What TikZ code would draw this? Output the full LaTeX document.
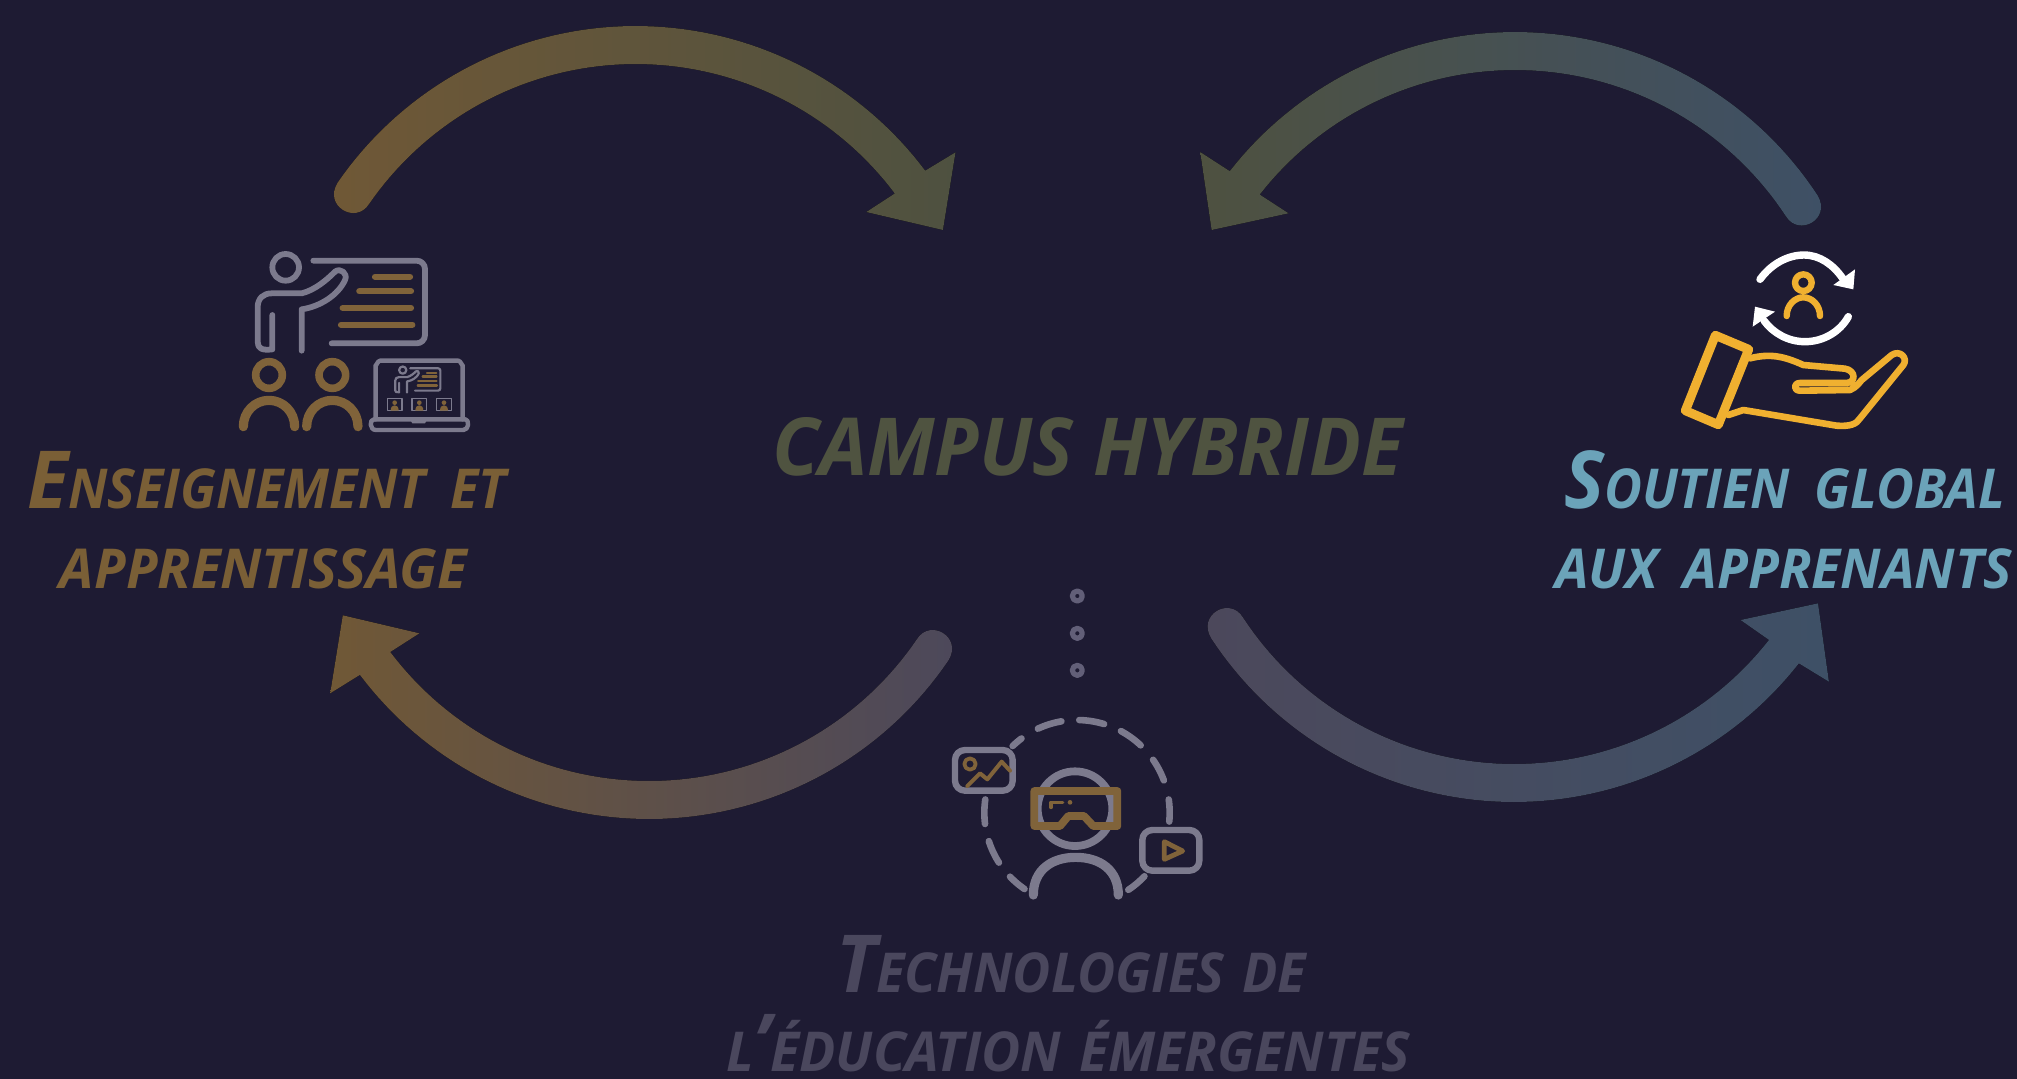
\documentclass[tikz,border=0pt]{standalone}
\usepackage{fontspec}
\usepackage{graphicx}
\setmainfont{Open Sans}
\definecolor{bgc}{HTML}{1E1B33}
\definecolor{ggray}{HTML}{7C7A8D}
\definecolor{dotgray}{HTML}{625F78}
\definecolor{ggold}{HTML}{80633A}
\definecolor{hgold}{HTML}{F0B030}
\definecolor{cens}{HTML}{7A5F36}
\definecolor{ccamp}{HTML}{4F5340}
\definecolor{ctec}{HTML}{4A475D}
\definecolor{csou}{HTML}{6BA3B9}
\definecolor{aBrown}{HTML}{705836}
\definecolor{aOlive}{HTML}{4E5140}
\definecolor{aBlue}{HTML}{3E5066}
\definecolor{aGray}{HTML}{4C485B}
\newsavebox\fitbox
\newcommand\fitw[2]{\sbox\fitbox{#2}\pgfmathsetmacro\fitr{#1*0.5/\the\wd\fitbox}\scalebox{\fitr}[1]{\usebox\fitbox}}
\newcommand\bigS[2]{{\fontsize{40}{40}\selectfont #1}{\fontsize{27.5}{27.5}\selectfont #2}}
\newcommand\smS[1]{{\fontsize{27.5}{27.5}\selectfont #1}}
\newcommand\wsp{\hspace{0.22em} }
\newcommand\nsp{\hspace{0.08em} }
\tikzset{
  lbl/.style={anchor=base west,inner sep=0pt,outer sep=0pt,font=\bfseries\itshape},
  icon/.style={scale=0.33333,line cap=round,line join=round},
  gr/.style={draw=ggray,line width=#1},
  gd/.style={draw=ggold,line width=#1},
  hd/.style={draw=hgold,line width=#1},
  wh/.style={draw=white,line width=#1},
}
% #1 left colour, #2 right colour, #3 cx, #4 cy, #5 start angle, #6 end angle, #7 cap overshoot (deg, signed), #8 head points
\newcommand\crescent[8]{%
  \fill[left color=#1,right color=#2]
    plot[domain=#5:#6,samples=70] ({#3+362*cos(\x)},{#4-362*sin(\x)})
    #8
    -- plot[domain=#6:#5,samples=70] ({#3+324*cos(\x)},{#4-324*sin(\x)})
    .. controls ({#3+324*cos(#5+#7)},{#4-324*sin(#5+#7)}) and ({#3+362*cos(#5+#7)},{#4-362*sin(#5+#7)})
    .. ({#3+362*cos(#5)},{#4-362*sin(#5)}) -- cycle;
}
\newcommand\teacher[2]{%
  \draw[gr=#1] (197,112) circle (40);
  \draw[gr=#1] (280,92) -- (590,92) to[out=0,in=90] (615,117) -- (615,315) to[out=-90,in=0] (590,340) -- (335,340);
  \draw[gr=#1] (157,255) -- (157,358) .. controls (125,362) and (113,355) .. (113,335) -- (113,232) .. controls (113,205) and (130,190) .. (155,190) -- (245,190) .. controls (285,180) and (320,150) .. (345,125) .. controls (360,112) and (385,130) .. (375,150) .. controls (355,195) and (300,230) .. (245,238) -- (245,362);
  \draw[gd=#2] (465,140) -- (570,140);
  \draw[gd=#2] (418,184) -- (573,184);
  \draw[gd=#2] (368,234) -- (573,234);
  \draw[gd=#2] (363,284) -- (577,284);
}
\newcommand\photo[1]{%
  \draw[gr=0.8pt] (#1,505) rectangle ++(44,37);
  \fill[ggold] (#1+22,518) circle (7);
  \fill[ggold] (#1+10,542) .. controls (#1+10,530) and (#1+16,526) .. (#1+22,526) .. controls (#1+28,526) and (#1+34,530) .. (#1+34,542) -- cycle;
}
\begin{document}
\begin{tikzpicture}[x=0.5pt,y=-0.5pt]
\useasboundingbox (0,0) rectangle (2017,1078);
\fill[bgc] (-5,-5) rectangle (2022,1083);

% Curved arrows (circular bands with a horizontal gradient)
\crescent{aBrown}{aOlive}{635.7}{388}{145.4}{36.9}{4.4}{-- (955.5,152.3) -- (942.9,230) -- (866.3,212)}
\crescent{aOlive}{aBlue}{1515}{394}{33.3}{142}{-4.4}{-- (1200.2,152) -- (1211.6,230) -- (1288.6,213.3)}
\crescent{aBrown}{aGray}{649}{457}{-34.2}{-143}{4.4}{-- (330.2,693.3) -- (342.8,615.3) -- (419.4,633.3)}
\crescent{aGray}{aBlue}{1514}{440}{-146.8}{-38.1}{-4.4}{-- (1828.9,681.7) -- (1818,603.3) -- (1740.5,620)}

% Teacher icon
\begin{scope}[shift={(220,230)},icon]
\teacher{2.9pt}{3.1pt}
\foreach \cx in {147,337}{
  \draw[gd=3.8pt] (\cx,435) circle (40);
  \draw[gd=4.6pt] (\cx-77,590) .. controls (\cx-77,545) and (\cx-42,511) .. (\cx,511) .. controls (\cx+42,511) and (\cx+77,545) .. (\cx+77,590);
}
\draw[gr=2.2pt] (467,568) -- (467,405) to[out=-90,in=180] (480,392) -- (715,392) to[out=0,in=-90] (728,405) -- (728,568);
\draw[gr=2.2pt] (462,568) -- (736,568) .. controls (748,568) and (748,600) .. (730,600) -- (468,600) .. controls (448,600) and (448,568) .. (462,568) -- cycle;
\fill[ggray] (570,568) -- (622,568) -- (615,580) -- (577,580) -- cycle;
\begin{scope}[shift={(495,390)},scale=0.27]
\teacher{1.1pt}{1.1pt}
\end{scope}
\photo{502}\photo{576}\photo{650}
\end{scope}

% Hand icon
\begin{scope}[shift={(1660,230)},icon]
\draw[wh=3.7pt] (300,148) .. controls (335,100) and (385,75) .. (432,75) .. controls (480,75) and (520,105) .. (548,145);
\fill[white] (585,118) -- (580,178) -- (520,165) -- cycle;
\draw[wh=3.7pt] (565,260) .. controls (540,305) and (490,335) .. (435,335) .. controls (385,335) and (340,310) .. (312,272);
\fill[white] (278,290) -- (285,230) -- (345,245) -- cycle;
\draw[hd=3.2pt] (430,158) circle (25);
\draw[hd=3.2pt] (380,258) .. controls (380,225) and (405,202) .. (430,202) .. controls (455,202) and (480,225) .. (480,258);
\draw[hd=4.5pt] (166,316) -- (266,358) -- (175,584) -- (76,542) -- cycle;
\draw[hd=3.3pt] (270,385) .. controls (330,370) and (370,378) .. (430,405) -- (555,416) .. controls (588,422) and (588,457) .. (560,459) -- (420,459) .. controls (400,459) and (400,482) .. (420,482) -- (570,480) .. controls (590,472) and (600,455) .. (605,450) -- (695,375) .. controls (720,358) and (745,385) .. (730,405) -- (600,565) .. controls (590,582) and (570,590) .. (530,587) -- (250,540) -- (205,555);
\end{scope}

% VR icon
\begin{scope}[shift={(930,580)},icon]
\foreach \dy in {48,160,271}{\draw[draw=dotgray,line width=2.6pt] (442,\dy) circle (15);}
\foreach \a/\b in {88.6/73,61.7/46.6,34.8/20.4,8.2/-5.5,-43.3/-56.4,235.5/223.7,212.6/197.9,187/171.8,134/126.8,115/99.7}{
  \draw[gr=3.3pt] plot[domain=\a:\b,samples=10,smooth] ({441+278*cos(\x)},{698-278*sin(\x)});
}
\draw[gr=3.2pt,rounded corners=5pt] (75,510) rectangle (248,632);
\draw[gd=1.9pt] (120,552) circle (17);
\draw[gd=2pt] (112,618) -- (150,580) -- (172,598) -- (215,545) -- (240,572);
\draw[gr=3.9pt] (435,686) circle (112);
\draw[gr=4.6pt] (310,945) .. controls (310,870) and (365,832) .. (437,832) .. controls (510,832) and (565,870) .. (565,945);
\draw[gd=3.9pt,line join=round] (313,633) -- (562,633) -- (562,738) -- (490,738) -- (462,708) -- (415,708) -- (390,738) -- (313,738) -- cycle;
\draw[gd=1.8pt] (363,682) -- (363,667) -- (398,667);
\fill[ggold] (420,667) circle (7);
\draw[gr=3.2pt,rounded corners=5pt] (637,750) rectangle (808,872);
\draw[gd=2.4pt] (703,785) -- (758,813) -- (703,838) -- cycle;
\end{scope}

% Labels
\node[lbl,text=ccamp] (camp) at (772,475) {\fitw{631}{\fontsize{40}{40}\selectfont CAMPUS HYBRIDE}};
\node[lbl,text=cens] (ens) at (27,508) {\fitw{479}{\bigS{E}{NSEIGNEMENT\wsp ET}}};
\node[lbl,text=cens] (app) at (60,588) {\fitw{407}{\smS{APPRENTISSAGE}}};
\node[lbl,text=csou] (sou) at (1564,508) {\fitw{441}{\bigS{S}{OUTIEN\wsp GLOBAL}}};
\node[lbl,text=csou] (aux) at (1555,588) {\fitw{457}{\smS{AUX\wsp APPRENANTS}}};
\node[lbl,text=ctec] (tec) at (836,992) {\fitw{470}{\bigS{T}{ECHNOLOGIES\nsp DE}}};
\node[lbl,text=ctec] (edu) at (726,1071) {\fitw{684}{\smS{L}{\fontsize{40}{40}\selectfont ’}\smS{ÉDUCATION\nsp ÉMERGENTES}}};
\end{tikzpicture}
\end{document}
